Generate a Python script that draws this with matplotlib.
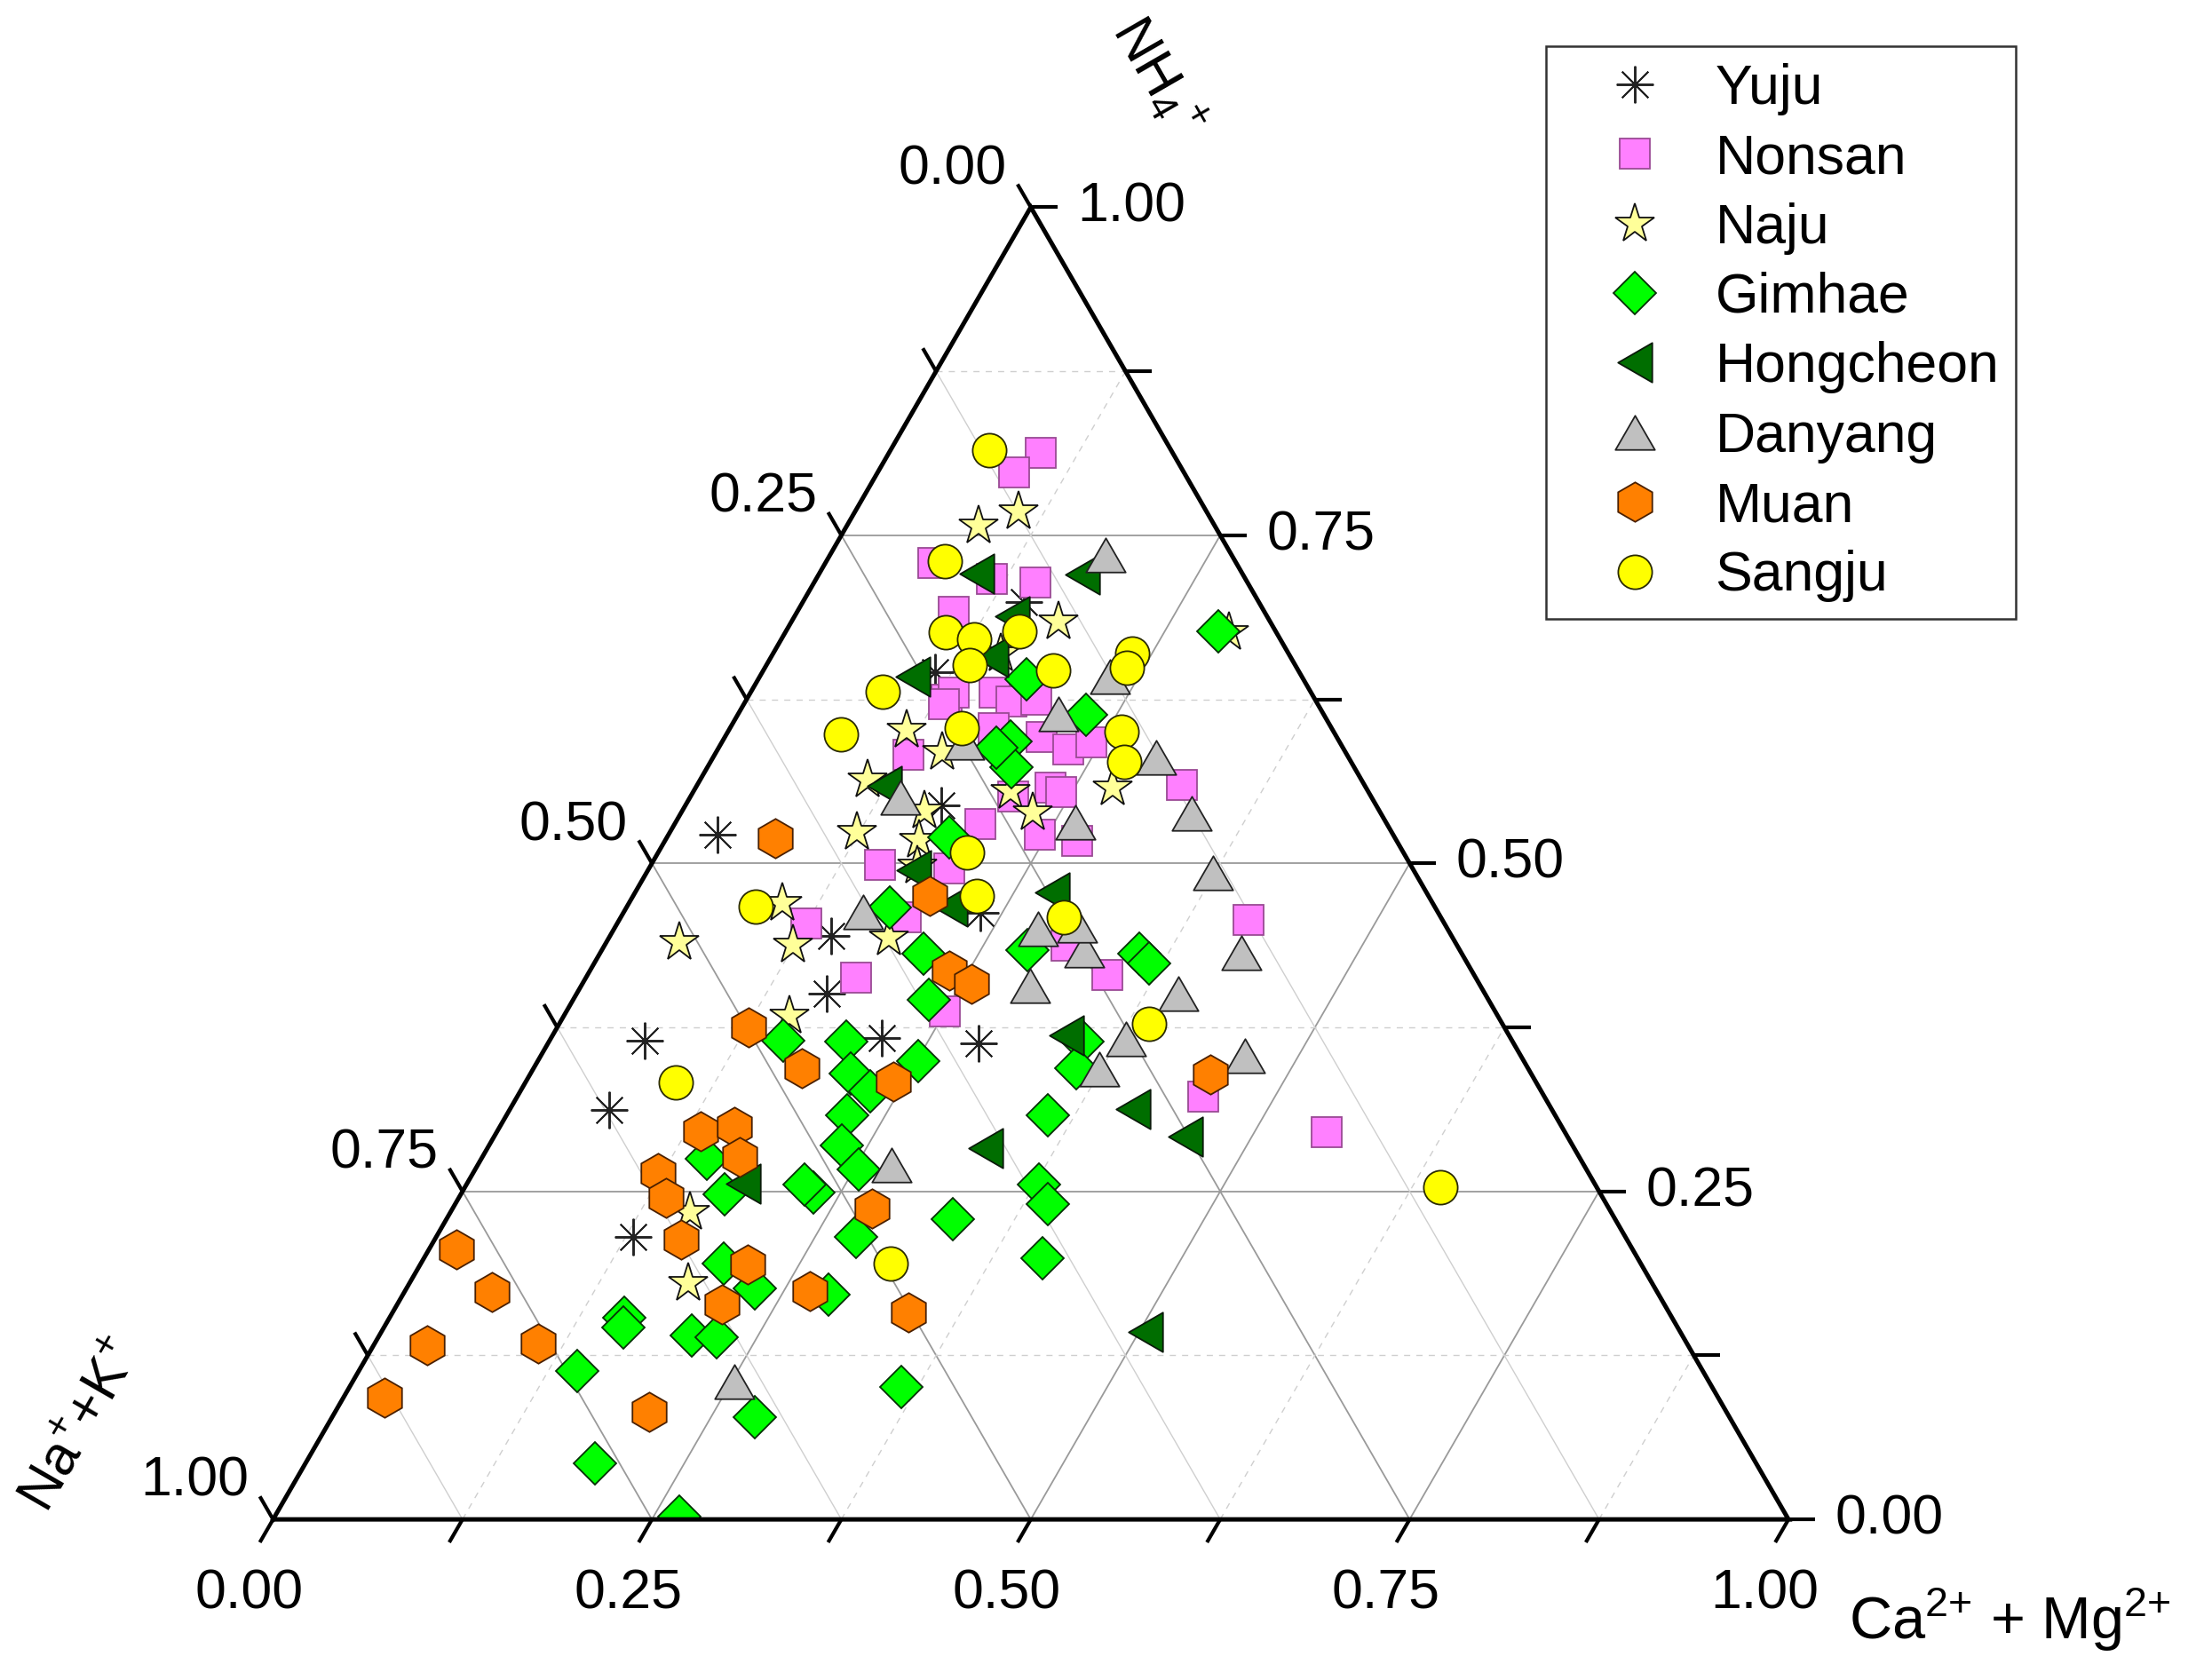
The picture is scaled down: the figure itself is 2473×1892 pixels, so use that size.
import numpy as np
import matplotlib
matplotlib.use('Agg')
import matplotlib.pyplot as plt
from matplotlib.path import Path
from matplotlib.patches import Rectangle

plt.rcParams['font.family'] = ['Liberation Sans', 'DejaVu Sans']
plt.rcParams['mathtext.fontset'] = 'custom'
plt.rcParams['mathtext.rm'] = 'Liberation Sans'
plt.rcParams['mathtext.it'] = 'Liberation Sans'
plt.rcParams['mathtext.bf'] = 'Liberation Sans:bold'

# ---- data: fraction of (Ca2+ + Mg2+) and NH4+ ; Na+ + K+ = 1 - both ----
yuju_camg = [0.032, 0.146, 0.165, 0.218, 0.284, 0.063, 0.066, 0.130, 0.169, 0.114, 0.146, 0.236]
yuju_nh4 = [0.522, 0.445, 0.401, 0.367, 0.363, 0.365, 0.312, 0.215, 0.544, 0.646, 0.699, 0.462]

nonsan_camg = [0.100, 0.090, 0.071, 0.116, 0.146, 0.103, 0.132, 0.134, 0.161, 0.176, 0.191, 0.174,
               0.209, 0.231, 0.244, 0.128, 0.320, 0.234, 0.243, 0.213, 0.202, 0.245, 0.272, 0.151,
               0.125, 0.178, 0.250, 0.188, 0.198, 0.415, 0.343, 0.305, 0.453, 0.548, 0.132]
nonsan_nh4 = [0.813, 0.798, 0.729, 0.717, 0.714, 0.692, 0.625, 0.630, 0.630, 0.623, 0.625, 0.603,
              0.596, 0.587, 0.592, 0.583, 0.560, 0.558, 0.554, 0.551, 0.530, 0.522, 0.517, 0.499,
              0.454, 0.413, 0.387, 0.459, 0.496, 0.457, 0.415, 0.437, 0.322, 0.295, 0.621]

naju_camg = [0.108, 0.087, 0.176, 0.293, 0.150, 0.117, 0.149, 0.110, 0.275, 0.209, 0.232, 0.160,
             0.123, 0.167, 0.176, 0.101, 0.124, 0.048, 0.185, 0.149, 0.158, 0.184]
naju_nh4 = [0.768, 0.757, 0.684, 0.676, 0.660, 0.602, 0.585, 0.564, 0.558, 0.555, 0.539, 0.540,
            0.524, 0.518, 0.498, 0.470, 0.438, 0.440, 0.443, 0.384, 0.234, 0.180]

gimhae_camg = [0.285, 0.177, 0.230, 0.190, 0.201, 0.183, 0.186, 0.174, 0.214, 0.235, 0.154, 0.196,
               0.211, 0.231, 0.251, 0.225, 0.233, 0.357, 0.281, 0.356, 0.366, 0.352, 0.358, 0.253,
               0.232, 0.223, 0.277, 0.334, 0.378, 0.391, 0.408, 0.281, 0.364, 0.174, 0.200, 0.230,
               0.155, 0.158, 0.206, 0.223, 0.144, 0.279, 0.191, 0.267, 0.149]
gimhae_nh4 = [0.677, 0.640, 0.613, 0.593, 0.573, 0.588, 0.520, 0.466, 0.431, 0.396, 0.365, 0.364,
              0.340, 0.326, 0.349, 0.308, 0.285, 0.308, 0.434, 0.431, 0.424, 0.364, 0.344, 0.267,
              0.249, 0.255, 0.215, 0.229, 0.255, 0.240, 0.199, 0.171, 0.101, 0.248, 0.195, 0.176,
              0.154, 0.146, 0.140, 0.139, 0.113, 0.078, 0.043, 0.002, 0.275]

hong_camg = [0.104, 0.174, 0.144, 0.101, 0.145, 0.124, 0.175, 0.213, 0.275, 0.339, 0.411, 0.456,
             0.329, 0.504, 0.182]
hong_nh4 = [0.721, 0.720, 0.688, 0.642, 0.657, 0.559, 0.495, 0.467, 0.478, 0.369, 0.313, 0.292,
            0.283, 0.143, 0.256]

danyang_camg = [0.182, 0.231, 0.211, 0.292, 0.139, 0.264, 0.160, 0.158, 0.296, 0.280, 0.337, 0.374,
                0.423, 0.318, 0.397, 0.380, 0.374, 0.465, 0.273, 0.252, 0.304]
danyang_nh4 = [0.735, 0.642, 0.614, 0.581, 0.550, 0.531, 0.592, 0.463, 0.407, 0.450, 0.538, 0.493,
               0.432, 0.434, 0.401, 0.366, 0.343, 0.353, 0.270, 0.105, 0.453]

muan_camg = [0.072, 0.196, 0.237, 0.257, 0.126, 0.177, 0.242, 0.134, 0.155, 0.170, 0.122, 0.137,
             0.163, 0.216, 0.214, 0.267, 0.018, 0.058, 0.035, 0.108, 0.027, 0.207, 0.277, 0.340, 0.449]
muan_nh4 = [0.519, 0.475, 0.418, 0.408, 0.375, 0.344, 0.334, 0.296, 0.299, 0.276, 0.264, 0.245,
            0.213, 0.194, 0.164, 0.174, 0.206, 0.173, 0.133, 0.134, 0.093, 0.082, 0.237, 0.158, 0.339]

sangju_camg = [0.065, 0.078, 0.106, 0.127, 0.154, 0.134, 0.191, 0.237, 0.239, 0.087, 0.076, 0.153,
               0.260, 0.273, 0.204, 0.227, 0.085, 0.292, 0.389, 0.099, 0.310, 0.644]
sangju_nh4 = [0.815, 0.730, 0.676, 0.671, 0.677, 0.651, 0.647, 0.660, 0.649, 0.631, 0.598, 0.603,
              0.600, 0.577, 0.508, 0.475, 0.467, 0.459, 0.378, 0.333, 0.195, 0.253]

series_names = ['Yuju', 'Nonsan', 'Naju', 'Gimhae', 'Hongcheon', 'Danyang', 'Muan', 'Sangju']

major_ticks = [0.0, 0.25, 0.5, 0.75, 1.0]
minor_ticks = [0.125, 0.375, 0.625, 0.875]
grid_major = [0.25, 0.5, 0.75]
grid_minor = [0.125, 0.375, 0.625, 0.875]

H = np.sqrt(3) / 2


def tern(camg, nh4):
    camg = np.asarray(camg, dtype=float)
    nh4 = np.asarray(nh4, dtype=float)
    return camg + nh4 / 2.0, nh4 * H


fig = plt.figure(figsize=(24.73, 18.92), dpi=100)
ax = fig.add_axes([0, 0, 1, 1])
ax.set_xlim(-0.1802, 1.2689)
ax.set_ylim(-0.1060, 1.0028)
ax.axis('off')

MAJ_C = '#9a9a9a'
MIN_C = '#cfcfcf'
# grid lines
for v in grid_major + grid_minor:
    major = v in grid_major
    col = MAJ_C if major else MIN_C
    lw = 1.3 if major else 1.0
    ls = '-' if major else (0, (5, 5))
    # constant NH4 (horizontal)
    x, y = tern([0, 1 - v], [v, v])
    ax.plot(x, y, color=col, lw=lw, ls=ls, zorder=1)
    # constant Ca+Mg (parallel to left edge)
    x, y = tern([v, v], [0, 1 - v])
    ax.plot(x, y, color=col, lw=lw, ls=ls, zorder=1)
    # constant Na+K (parallel to right edge) -- solid
    x, y = tern([1 - v, 0], [0, 1 - v])
    ax.plot(x, y, color=col, lw=lw, ls='-', zorder=1)

# frame
x, y = tern([0, 1, 0, 0], [0, 0, 1, 0])
ax.plot(x, y, color='black', lw=3.6, solid_joinstyle='miter', zorder=20)

TL = 0.0175
# ticks
for v in major_ticks + minor_ticks:
    # bottom (Ca+Mg), tick down-left
    x0, y0 = tern(v, 0)
    ax.plot([x0, x0 - TL * 0.5], [y0, y0 - TL * H], color='black', lw=3.0, zorder=20,
            solid_capstyle='butt')
    # right (NH4), tick to the right
    x0, y0 = tern(1 - v, v)
    ax.plot([x0, x0 + TL], [y0, y0], color='black', lw=3.0, zorder=20, solid_capstyle='butt')
    # left (Na+K), tick up-left
    x0, y0 = tern(0, 1 - v)
    ax.plot([x0, x0 - TL * 0.5], [y0, y0 + TL * H], color='black', lw=3.0, zorder=20,
            solid_capstyle='butt')

FS = 45
for v in major_ticks:
    x0, y0 = tern(v, 0)
    ax.text(x0 - 0.0157, y0 - 0.049, f'{v:.2f}', fontsize=FS, ha='center', va='center')
    x0, y0 = tern(1 - v, v)
    ax.text(x0 + 0.0665, y0, f'{v:.2f}', fontsize=FS, ha='center', va='center')
    x0, y0 = tern(0, 1 - v)
    ax.text(x0 - 0.0518, y0 + 0.025, f'{v:.2f}', fontsize=FS, ha='center', va='center')

ax.text(0.5832, 0.9519, r'NH$_4$$^{+}$', fontsize=FS, rotation=-60, ha='center', va='center',
        rotation_mode='anchor')
ax.text(-0.1266, 0.0619, r'Na$^{{+}}$+K$^{{+}}$', fontsize=FS, rotation=60, ha='center',
        va='center', rotation_mode='anchor')
ax.text(1.146, -0.0665, r'Ca$^{2{+}}$ + Mg$^{2{+}}$', fontsize=48, ha='center', va='center')

# markers
tri_up = Path([(-1, -0.866), (1, -0.866), (0, 0.866), (-1, -0.866)], closed=True)
tri_left = Path([(-0.866, 0), (0.866, 1), (0.866, -1), (-0.866, 0)], closed=True)

clip = Rectangle((-0.2, 0.0), 1.5, 1.1, transform=ax.transData)

styles = [
    (yuju_camg, yuju_nh4, dict(marker=(8, 2, 0), ms=30, mec='#222222', mfc='none', mew=1.4)),
    (nonsan_camg, nonsan_nh4, dict(marker='s', ms=24, mfc='#FF80FF', mec='#9A4A94', mew=1.3)),
    (naju_camg, naju_nh4, dict(marker='*', ms=33, mfc='#FFFF99', mec='#111111', mew=1.3)),
    (gimhae_camg, gimhae_nh4, dict(marker='D', ms=24, mfc='#00FF00', mec='#063006', mew=1.3)),
    (hong_camg, hong_nh4, dict(marker=tri_left, ms=32, mfc='#006E00', mec='#0a1a0a', mew=1.3)),
    (danyang_camg, danyang_nh4, dict(marker=tri_up, ms=32, mfc='#C0C0C0', mec='#222222', mew=1.3)),
    (muan_camg, muan_nh4, dict(marker='h', ms=32, mfc='#FF8000', mec='#4a2000', mew=1.3)),
    (sangju_camg, sangju_nh4, dict(marker='o', ms=27.5, mfc='#FFFF00', mec='#2a2a00', mew=1.3)),
]

for i, ((ca, nh, st), name) in enumerate(zip(styles, series_names)):
    x, y = tern(ca, nh)
    ln, = ax.plot(x, y, ls='none', label=name, zorder=5 + i, **st)
    ln.set_clip_path(clip)

leg = ax.legend(loc='upper left', bbox_to_anchor=(0.704, 0.9725), bbox_transform=fig.transFigure,
                fontsize=FS, frameon=True, fancybox=False, edgecolor='#333333', framealpha=1,
                borderpad=0.3, handlelength=2.6, handletextpad=0.15, labelspacing=0.31,
                borderaxespad=0, numpoints=1)
leg.get_frame().set_linewidth(1.8)
leg.set_zorder(30)

fig.savefig('out.png', dpi=100)
